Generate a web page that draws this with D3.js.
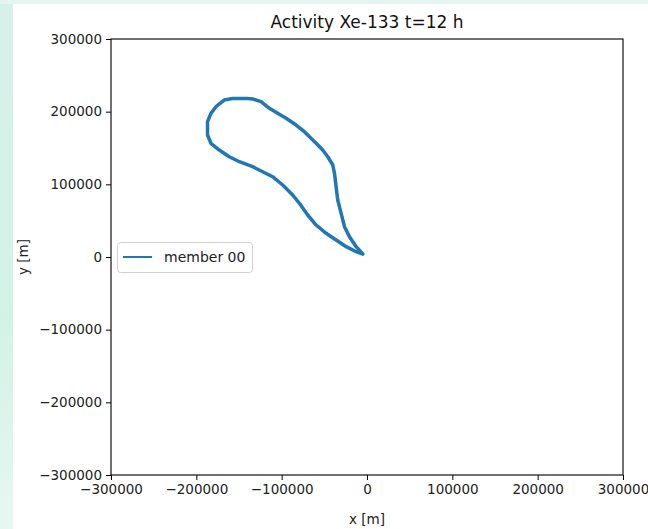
<!DOCTYPE html>
<html><head><meta charset="utf-8">
<script src="https://cdn.jsdelivr.net/npm/d3@7"></script>
<style>
body{margin:0;padding:0;background:#fff;}
svg{display:block;font-family:"DejaVu Sans",sans-serif;}
</style></head>
<body>
<svg id="chart" width="648" height="529"></svg>
<script>
// Data (metres)
const xTicks = [-300000,-200000,-100000,0,100000,200000,300000];
const yTicks = [-300000,-200000,-100000,0,100000,200000,300000];
const seriesName = "member 00";
const contourX = [-4900,-12700,-20500,-26400,-30300,-34300,-36200,-38100,-40100,-46000,-51900,-59600,-73400,-83100,-94800,-104700,-114400,-124200,-134000,-140000,-157500,-167300,-177000,-182900,-186900,-186900,-182900,-173100,-161400,-149600,-134000,-122300,-110600,-98800,-87100,-79200,-69500,-59600,-47900,-36200,-24400,-12700,-4900];
const contourY = [4100,14200,27900,41700,60100,78400,96700,115200,126600,138000,147200,156500,172400,181600,190900,197700,204600,213700,217500,218000,218000,216000,206800,197700,186200,167900,156500,147200,138000,131100,124300,117400,110500,99100,85300,73900,57800,44000,32600,23400,14200,7300,4100];
const title = "Activity Xe-133 t=12 h";

const svg = d3.select("#chart");
// slide-like background strips
const defs = svg.append("defs");
const g1 = defs.append("linearGradient").attr("id","lg").attr("x1",0).attr("y1",0).attr("x2",0).attr("y2",1);
g1.append("stop").attr("offset","0%").attr("stop-color","#d6f1ea");
g1.append("stop").attr("offset","60%").attr("stop-color","#d3f2e6");
g1.append("stop").attr("offset","100%").attr("stop-color","#e4f8f1");
svg.append("rect").attr("x",0).attr("y",0).attr("width",648).attr("height",529).attr("fill","#fff");
svg.append("rect").attr("x",0).attr("y",0).attr("width",13).attr("height",529).attr("fill","url(#lg)");
svg.append("rect").attr("x",0).attr("y",0).attr("width",648).attr("height",4).attr("fill","#e3f4f1");

const L=111, R=623, T=39, B=475;
const x = d3.scaleLinear().domain([-300000,300000]).range([L,R]);
const y = d3.scaleLinear().domain([-300000,300000]).range([B,T]);

const fmt = d => d<0 ? "\u2212"+Math.abs(d) : String(d);

const xa = svg.append("g").attr("transform",`translate(0,${B})`)
  .call(d3.axisBottom(x).tickValues(xTicks).tickFormat(fmt).tickSize(5).tickPadding(4));
const ya = svg.append("g").attr("transform",`translate(${L},0)`)
  .call(d3.axisLeft(y).tickValues(yTicks).tickFormat(fmt).tickSize(5).tickPadding(4));
[xa,ya].forEach(a=>{
  a.select(".domain").remove();
  a.selectAll("text").attr("font-size","13.5px").attr("fill","#222").attr("font-family","DejaVu Sans");
  a.selectAll("line").attr("stroke","#000").attr("stroke-width",1);
});

// frame
svg.append("rect").attr("x",L).attr("y",T).attr("width",R-L).attr("height",B-T)
  .attr("fill","none").attr("stroke","#111").attr("stroke-width",1.2);

// contour
const pts = contourX.map((d,i)=>[d,contourY[i]]);
svg.append("path").datum(pts)
  .attr("d", d3.line().x(d=>x(d[0])).y(d=>y(d[1])))
  .attr("fill","none").attr("stroke","#1f77b4").attr("stroke-width",3.5)
  .attr("stroke-linejoin","round").attr("stroke-linecap","round");

// title & labels
svg.append("text").attr("x",(L+R)/2).attr("y",28).attr("text-anchor","middle")
  .attr("font-size","17px").attr("fill","#111").text(title);
svg.append("text").attr("x",(L+R)/2).attr("y",524).attr("text-anchor","middle")
  .attr("font-size","13.5px").attr("fill","#222").text("x [m]");
svg.append("text").attr("transform",`translate(28,${(T+B)/2}) rotate(-90)`).attr("text-anchor","middle")
  .attr("font-size","13.5px").attr("fill","#222").text("y [m]");

// legend
const lg = svg.append("g");
lg.append("rect").attr("x",117.5).attr("y",242.5).attr("width",135).attr("height",30).attr("rx",3)
  .attr("fill","#fff").attr("stroke","#d0d0d0").attr("stroke-width",1);
lg.append("line").attr("x1",123).attr("x2",152).attr("y1",257).attr("y2",257)
  .attr("stroke","#1f77b4").attr("stroke-width",2);
lg.append("text").attr("x",164).attr("y",262).attr("font-size","14px").attr("fill","#222").text(seriesName);
</script>
</body></html>
